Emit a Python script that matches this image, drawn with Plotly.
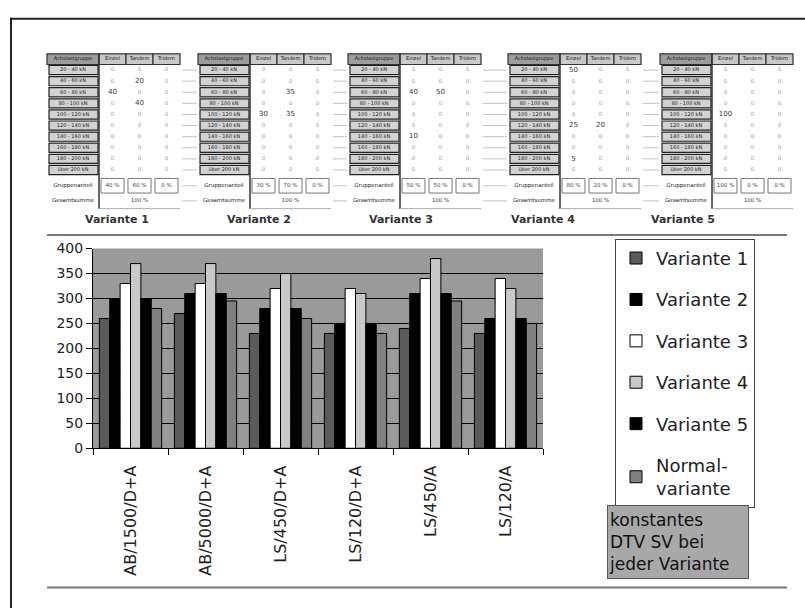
import plotly.graph_objects as go

# ---- bar chart data -------------------------------------------------------
categories = ["AB/1500/D+A", "AB/5000/D+A", "LS/450/D+A", "LS/120/D+A", "LS/450/A", "LS/120/A"]
variante_1 = [260, 270, 230, 230, 240, 230]
variante_2 = [300, 310, 280, 250, 310, 260]
variante_3 = [330, 330, 320, 320, 340, 340]
variante_4 = [370, 370, 350, 310, 380, 320]
variante_5 = [300, 310, 280, 250, 310, 260]
normalvariante = [280, 295, 260, 230, 295, 250]

series_names = ["Variante 1", "Variante 2", "Variante 3", "Variante 4", "Variante 5", "Normal-<br>variante"]
series_values = [variante_1, variante_2, variante_3, variante_4, variante_5, normalvariante]
series_colors = ["#5a5a5a", "#000000", "#ffffff", "#c8c8c8", "#000000", "#808080"]

# ---- axle load distribution tables ---------------------------------------
table_header = ["Achslastgruppe", "Einzel", "Tandem", "Tridem"]
load_classes = ["20 - 40 kN", "40 - 60 kN", "60 - 80 kN", "80 - 100 kN", "100 - 120 kN",
                "120 - 140 kN", "140 - 160 kN", "160 - 180 kN", "180 - 200 kN", "über 200 kN"]
summary_labels = ["Gruppenanteil", "Gesamtsumme"]

v1_einzel = [0, 0, 40, 0, 0, 0, 0, 0, 0, 0]
v1_tandem = [0, 20, 0, 40, 0, 0, 0, 0, 0, 0]
v1_tridem = [0, 0, 0, 0, 0, 0, 0, 0, 0, 0]
v1_anteil = ["40 %", "60 %", "0 %"]

v2_einzel = [0, 0, 0, 0, 30, 0, 0, 0, 0, 0]
v2_tandem = [0, 0, 35, 0, 35, 0, 0, 0, 0, 0]
v2_tridem = [0, 0, 0, 0, 0, 0, 0, 0, 0, 0]
v2_anteil = ["30 %", "70 %", "0 %"]

v3_einzel = [0, 0, 40, 0, 0, 0, 10, 0, 0, 0]
v3_tandem = [0, 0, 50, 0, 0, 0, 0, 0, 0, 0]
v3_tridem = [0, 0, 0, 0, 0, 0, 0, 0, 0, 0]
v3_anteil = ["50 %", "50 %", "0 %"]

v4_einzel = [50, 0, 0, 0, 0, 25, 0, 0, 5, 0]
v4_tandem = [0, 0, 0, 0, 0, 20, 0, 0, 0, 0]
v4_tridem = [0, 0, 0, 0, 0, 0, 0, 0, 0, 0]
v4_anteil = ["80 %", "20 %", "0 %"]

v5_einzel = [0, 0, 0, 0, 100, 0, 0, 0, 0, 0]
v5_tandem = [0, 0, 0, 0, 0, 0, 0, 0, 0, 0]
v5_tridem = [0, 0, 0, 0, 0, 0, 0, 0, 0, 0]
v5_anteil = ["100 %", "0 %", "0 %"]

gesamtsumme = "100 %"
table_titles = ["Variante 1", "Variante 2", "Variante 3", "Variante 4", "Variante 5"]
table_einzel = [v1_einzel, v2_einzel, v3_einzel, v4_einzel, v5_einzel]
table_tandem = [v1_tandem, v2_tandem, v3_tandem, v4_tandem, v5_tandem]
table_tridem = [v1_tridem, v2_tridem, v3_tridem, v4_tridem, v5_tridem]
table_anteil = [v1_anteil, v2_anteil, v3_anteil, v4_anteil, v5_anteil]

W, H = 805, 616
FONT = "DejaVu Sans"


def fx(px):
    return px / W


def fy(py):
    return 1 - py / H


fig = go.Figure()

# ---- grouped bars (x / y axes) -------------------------------------------
for name, vals, col in zip(series_names, series_values, series_colors):
    fig.add_trace(go.Bar(
        x=categories, y=vals, name=name, legendgroup=name,
        marker=dict(color=col, line=dict(color="#000000", width=1)),
    ))

# ---- tables drawn on a pixel-unit overlay (x2 / y2 axes) -----------------
LABEL_W, VAL_W = 52, 27
HEAD_TOP, HEAD_BOT = 47, 58
ROW_H = 11.4
SUM_TOP, SUM_BOT, TOT_BOT = 175, 190, 206
table_left = [47, 198, 348, 508, 660]
title_centres = [117, 259, 401, 543, 683]

txt_x, txt_y, txt_s, txt_size, txt_col = [], [], [], [], []
shapes = []


def put(x, y, s, size, col):
    txt_x.append(x)
    txt_y.append(y)
    txt_s.append(s)
    txt_size.append(size)
    txt_col.append(col)


def rect(x0, y0, x1, y1, fill, line, lw):
    shapes.append(dict(type="rect", xref="x2", yref="y2", x0=x0, x1=x1, y0=y0, y1=y1,
                       fillcolor=fill, line=dict(color=line, width=lw), layer="below"))


def hline(x0, x1, y, col, lw):
    shapes.append(dict(type="line", xref="x2", yref="y2", x0=x0, x1=x1, y0=y, y1=y,
                       line=dict(color=col, width=lw), layer="below"))


prev_right = None
for i, x0 in enumerate(table_left):
    xv = [x0 + LABEL_W + k * VAL_W for k in range(4)]
    right = xv[3]
    rows_mid = [HEAD_BOT + (r + 0.5) * ROW_H for r in range(len(load_classes))]

    # header row
    rect(x0, HEAD_TOP, xv[0], HEAD_BOT, "#9c9c9c", "#333333", 1.2)
    put((x0 + xv[0]) / 2, (HEAD_TOP + HEAD_BOT) / 2, table_header[0], 5, "#111111")
    for k in range(3):
        rect(xv[k], HEAD_TOP, xv[k + 1], HEAD_BOT, "#c8c8c8", "#333333", 1.2)
        put((xv[k] + xv[k + 1]) / 2, (HEAD_TOP + HEAD_BOT) / 2, table_header[k + 1], 5, "#111111")

    # load class rows
    cols = [table_einzel[i], table_tandem[i], table_tridem[i]]
    for r, lab in enumerate(load_classes):
        y0r = HEAD_BOT + r * ROW_H
        rect(x0 + 2, y0r + 1, xv[0] - 1, y0r + ROW_H - 1, "#d2d2d2", "#222222", 1.2)
        put((x0 + xv[0]) / 2, rows_mid[r], lab, 5, "#222222")
        for k in range(3):
            v = cols[k][r]
            put((xv[k] + xv[k + 1]) / 2, rows_mid[r], str(v),
                7 if v else 5.5, "#333333" if v else "#9a9a9a")

    # value area border
    shapes.append(dict(type="line", xref="x2", yref="y2", x0=xv[0], x1=xv[0],
                       y0=HEAD_TOP, y1=TOT_BOT, line=dict(color="#333333", width=1.5),
                       layer="below"))

    # Gruppenanteil row
    put((x0 + xv[0]) / 2, (SUM_TOP + SUM_BOT) / 2, summary_labels[0], 5.5, "#222222")
    for k in range(3):
        rect(xv[k] + 2, SUM_TOP, xv[k + 1] - 2, SUM_BOT, "white", "#777777", 1)
        put((xv[k] + xv[k + 1]) / 2, (SUM_TOP + SUM_BOT) / 2, table_anteil[i][k], 5.5, "#444444")

    # Gesamtsumme row
    put((x0 + xv[0]) / 2, (SUM_BOT + TOT_BOT) / 2, summary_labels[1], 5.5, "#222222")
    put((xv[0] + right) / 2, (SUM_BOT + TOT_BOT) / 2, gesamtsumme, 5.5, "#444444")
    hline(xv[0], right, TOT_BOT, "#aaaaaa", 1)

    # faint row rules linking neighbouring tables
    if prev_right is not None:
        for ym in rows_mid + [(SUM_TOP + SUM_BOT) / 2, (SUM_BOT + TOT_BOT) / 2]:
            hline(prev_right + 2, x0 - 1, ym, "#c4c4c4", 1)
    prev_right = right

    put(title_centres[i], 218, "<b>%s</b>" % table_titles[i], 11, "#333333")

fig.add_trace(go.Scatter(
    x=txt_x, y=txt_y, text=txt_s, mode="text", xaxis="x2", yaxis="y2",
    textposition="middle center", showlegend=False, hoverinfo="skip",
    textfont=dict(family=FONT, size=txt_size, color=txt_col),
))

# grey back wall of the bar chart, beneath the gridlines
shapes.append(dict(type="rect", xref="x domain", yref="y domain", x0=0, x1=1, y0=0, y1=1,
                   fillcolor="#9a9a9a", line=dict(width=0), layer="below"))

# frame (top and left edges) and separator rules
shapes.append(dict(type="line", xref="paper", yref="paper", x0=fx(10), x1=1, y0=fy(11), y1=fy(11),
                   line=dict(color="#222222", width=2)))
shapes.append(dict(type="line", xref="paper", yref="paper", x0=fx(11), x1=fx(11), y0=fy(10), y1=0,
                   line=dict(color="#222222", width=2)))
for yy in (233, 595):
    shapes.append(dict(type="line", xref="paper", yref="paper", x0=fx(47), x1=fx(787),
                       y0=fy(yy), y1=fy(yy), line=dict(color="#777777", width=2)))

fig.update_layout(
    width=W, height=H,
    margin=dict(l=0, r=0, t=0, b=0),
    paper_bgcolor="white",
    plot_bgcolor="rgba(0,0,0,0)",
    barmode="group", bargap=0.17, bargroupgap=0,
    font=dict(family=FONT, color="#222222"),
    shapes=shapes,
    xaxis=dict(domain=[fx(93), fx(543)], type="category",
               tickangle=-90, tickson="boundaries", ticks="outside", ticklen=6,
               tickcolor="#000000", showline=True, linecolor="#000000", linewidth=1,
               showgrid=False, ticklabelstandoff=10,
               tickfont=dict(family=FONT, size=16, color="#222222")),
    yaxis=dict(domain=[fy(452), fy(247)], range=[0, 400], dtick=50,
               ticks="outside", ticklen=6, tickcolor="#000000",
               showline=True, linecolor="#000000", linewidth=1,
               showgrid=True, gridcolor="#000000", gridwidth=1, zeroline=False,
               tickfont=dict(family=FONT, size=14, color="#222222")),
    xaxis2=dict(domain=[0, 1], range=[0, W], anchor="y2", visible=False, fixedrange=True),
    yaxis2=dict(domain=[0, 1], range=[H, 0], anchor="x2", visible=False, fixedrange=True),
    legend=dict(x=fx(615), y=fy(237), xanchor="left", yanchor="top",
                bgcolor="white", bordercolor="#444444", borderwidth=1,
                font=dict(family=FONT, size=18, color="#222222"),
                traceorder="grouped", tracegroupgap=15, itemwidth=30),
)

# note box under the legend
fig.add_annotation(x=fx(607), y=fy(510), xref="paper", yref="paper",
                   xanchor="left", yanchor="top", showarrow=False,
                   text="konstantes<br>DTV SV bei<br>jeder Variante", align="left",
                   width=138, height=70, bgcolor="#a8a8a8", bordercolor="#555555",
                   borderwidth=1, font=dict(family=FONT, size=17, color="#111111"))

fig.write_html("out.html")
